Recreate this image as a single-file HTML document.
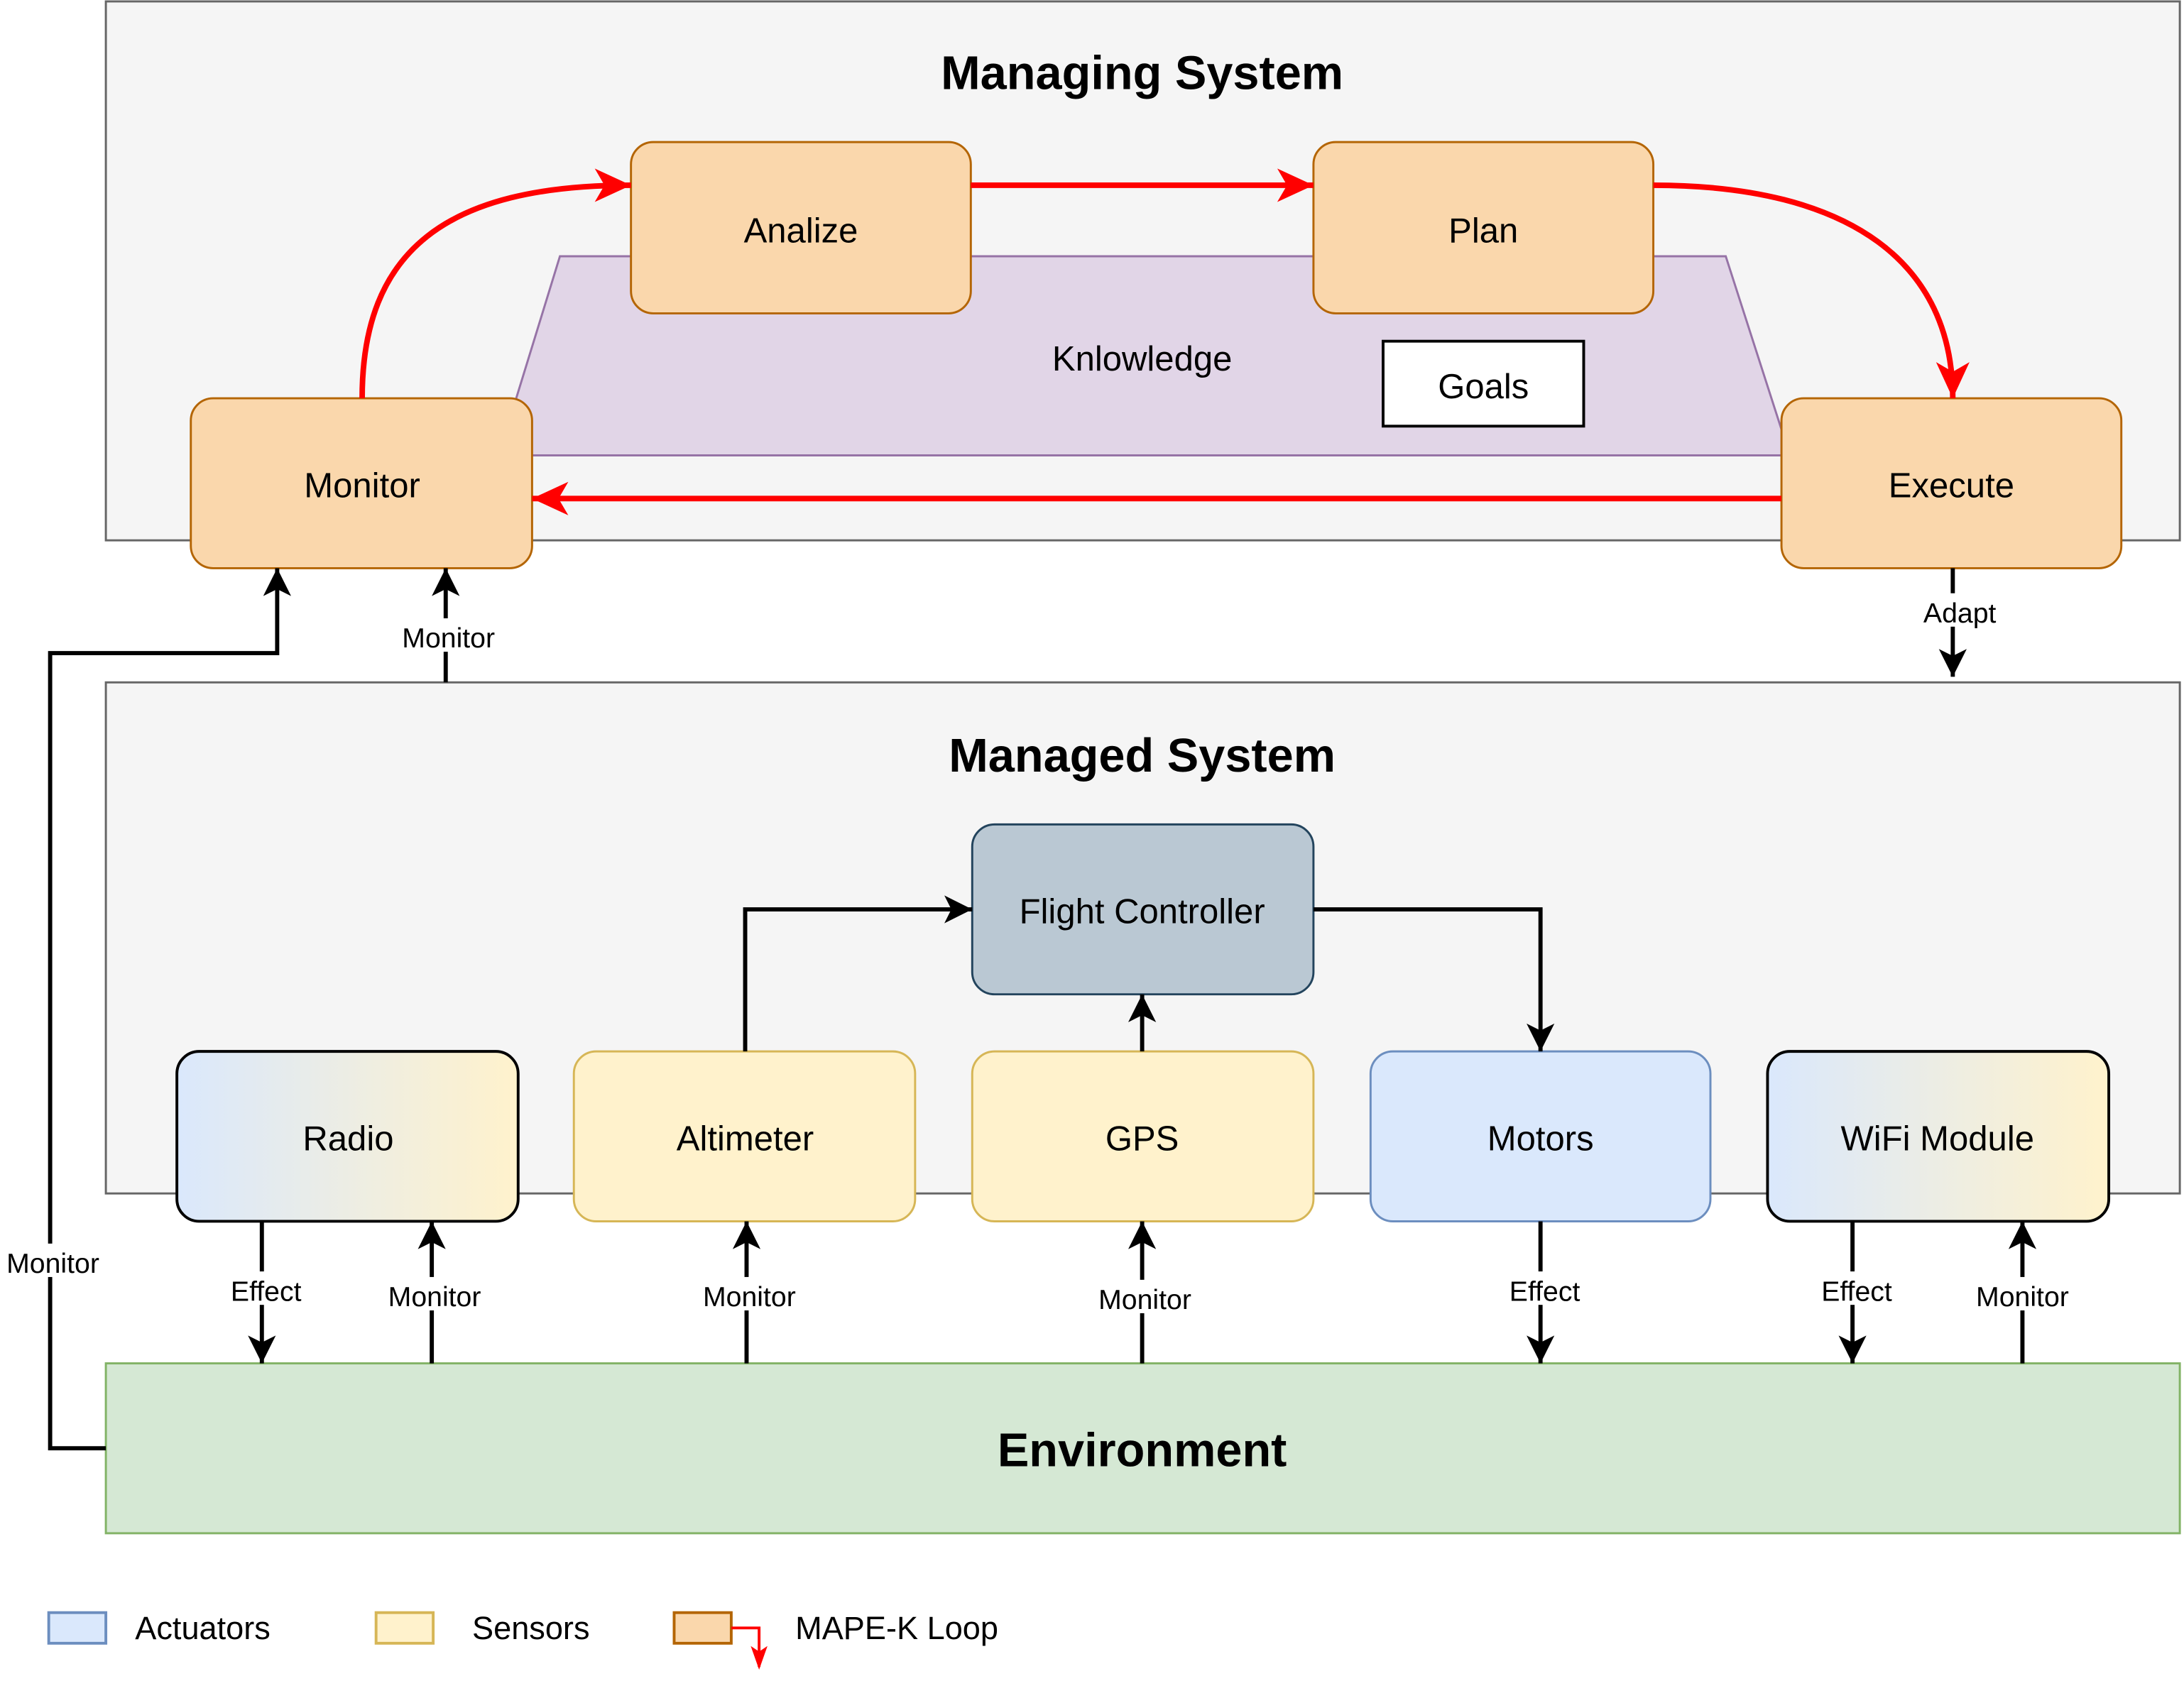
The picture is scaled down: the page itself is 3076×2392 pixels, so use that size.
<!DOCTYPE html>
<html><head><meta charset="utf-8"><style>
html,body{margin:0;padding:0;background:#fff;}
svg{display:block;font-family:"Liberation Sans",Helvetica,Arial,sans-serif;}
</style></head><body>
<svg width="3076" height="2392" viewBox="0 0 1568 1219.3" xmlns="http://www.w3.org/2000/svg">
<defs>
<marker id="ar" markerUnits="userSpaceOnUse" markerWidth="30" markerHeight="30" refX="26" refY="12" orient="auto">
<path d="M0,0 L26,12 L0,24 L7,12 Z" fill="#ff0000"/></marker>
<marker id="ab" markerUnits="userSpaceOnUse" markerWidth="24" markerHeight="24" refX="20" refY="10" orient="auto">
<path d="M0,0 L20,10 L0,20 L5,10 Z" fill="#000"/></marker>
<linearGradient id="g1" x1="0" x2="1" y1="0" y2="0"><stop offset="0" stop-color="#dae8fc"/><stop offset="1" stop-color="#fff2cc"/></linearGradient>
</defs>
<rect x="76" y="1" width="1489" height="387" fill="#f5f5f5" stroke="#666" stroke-width="1.5"/>
<text x="820" y="64" font-size="34" font-weight="bold" text-anchor="middle">Managing System</text>
<polygon points="402,184 1239,184 1285,327 358,327" fill="#e1d5e7" stroke="#9673a6" stroke-width="1.5"/>
<text x="820" y="266" font-size="25" text-anchor="middle">Knlowledge</text>
<rect x="993" y="245" width="144" height="61" fill="#fff" stroke="#000" stroke-width="2"/>
<text x="1065" y="286" font-size="25" text-anchor="middle">Goals</text>
<g fill="#fad7ac" stroke="#b46504" stroke-width="1.5">
<rect x="453" y="102" width="244" height="123" rx="16"/>
<rect x="943" y="102" width="244" height="123" rx="16"/>
<rect x="137" y="286" width="245" height="122" rx="16"/>
<rect x="1279" y="286" width="244" height="122" rx="16"/>
</g>
<g font-size="25" text-anchor="middle">
<text x="575" y="174">Analize</text><text x="1065" y="174">Plan</text>
<text x="260" y="357">Monitor</text><text x="1401" y="357">Execute</text>
</g>
<g fill="none" stroke="#ff0000" stroke-width="4">
<path d="M260,286 C260,180 320,133 453,133" marker-end="url(#ar)"/>
<path d="M697,133 L943,133" marker-end="url(#ar)"/>
<path d="M1187,133 C1330,133 1402,190 1402,286" marker-end="url(#ar)"/>
<path d="M1279,358 L382,358" marker-end="url(#ar)"/>
</g>
<rect x="76" y="490" width="1489" height="367" fill="#f5f5f5" stroke="#666" stroke-width="1.5"/>
<text x="820" y="554" font-size="34" font-weight="bold" text-anchor="middle">Managed System</text>
<rect x="698" y="592" width="245" height="122" rx="16" fill="#bac8d3" stroke="#23445d" stroke-width="1.5"/>
<rect x="127" y="755" width="245" height="122" rx="16" fill="url(#g1)" stroke="#000" stroke-width="2"/>
<rect x="412" y="755" width="245" height="122" rx="16" fill="#fff2cc" stroke="#d6b656" stroke-width="1.5"/>
<rect x="698" y="755" width="245" height="122" rx="16" fill="#fff2cc" stroke="#d6b656" stroke-width="1.5"/>
<rect x="984" y="755" width="244" height="122" rx="16" fill="#dae8fc" stroke="#6c8ebf" stroke-width="1.5"/>
<rect x="1269" y="755" width="245" height="122" rx="16" fill="url(#g1)" stroke="#000" stroke-width="2"/>
<g font-size="25" text-anchor="middle">
<text x="820" y="663">Flight Controller</text>
<text x="250" y="826">Radio</text><text x="535" y="826">Altimeter</text>
<text x="820" y="826">GPS</text><text x="1106" y="826">Motors</text><text x="1391" y="826">WiFi Module</text>
</g>
<rect x="76" y="979" width="1489" height="122" fill="#d5e8d4" stroke="#82b366" stroke-width="1.5"/>
<text x="820" y="1053" font-size="34" font-weight="bold" text-anchor="middle">Environment</text>
<g fill="none" stroke="#000" stroke-width="3">
<path d="M535,755 L535,653 L698,653" marker-end="url(#ab)"/>
<path d="M943,653 L1106,653 L1106,755" marker-end="url(#ab)"/>
<path d="M820,755 L820,714" marker-end="url(#ab)"/>
<path d="M188,877 L188,979" marker-end="url(#ab)"/>
<path d="M310,979 L310,877" marker-end="url(#ab)"/>
<path d="M536,979 L536,877" marker-end="url(#ab)"/>
<path d="M820,979 L820,877" marker-end="url(#ab)"/>
<path d="M1106,877 L1106,979" marker-end="url(#ab)"/>
<path d="M1330,877 L1330,979" marker-end="url(#ab)"/>
<path d="M1452,979 L1452,877" marker-end="url(#ab)"/>
<path d="M320,490 L320,408" marker-end="url(#ab)"/>
<path d="M1402,408 L1402,486" marker-end="url(#ab)"/>
<path d="M76,1040 L36,1040 L36,469 L199,469 L199,408" marker-end="url(#ab)"/>
</g>
<g font-size="20" text-anchor="middle">
<rect x="162" y="913" width="58" height="24" fill="#fff"/><text x="191" y="934">Effect</text>
<rect x="272" y="917" width="80" height="24" fill="#fff"/><text x="312" y="938">Monitor</text>
<rect x="498" y="917" width="80" height="24" fill="#fff"/><text x="538" y="938">Monitor</text>
<rect x="782" y="919" width="80" height="24" fill="#fff"/><text x="822" y="940">Monitor</text>
<rect x="1080" y="913" width="58" height="24" fill="#fff"/><text x="1109" y="934">Effect</text>
<rect x="1304" y="913" width="58" height="24" fill="#fff"/><text x="1333" y="934">Effect</text>
<rect x="1412" y="917" width="80" height="24" fill="#fff"/><text x="1452" y="938">Monitor</text>
<rect x="282" y="444" width="80" height="24" fill="#fff"/><text x="322" y="465">Monitor</text>
<rect x="1377" y="426" width="60" height="24" fill="#fff"/><text x="1407" y="447">Adapt</text>
<rect x="0" y="893" width="78" height="24" fill="#fff"/><text x="38" y="914">Monitor</text>
</g>
<rect x="35" y="1158" width="41" height="22" fill="#dae8fc" stroke="#6c8ebf" stroke-width="2"/>
<text x="97" y="1177" font-size="23">Actuators</text>
<rect x="270" y="1158" width="41" height="22" fill="#fff2cc" stroke="#d6b656" stroke-width="2"/>
<text x="339" y="1177" font-size="23">Sensors</text>
<rect x="484" y="1158" width="41" height="22" fill="#fad7ac" stroke="#b46504" stroke-width="2"/>
<path d="M525,1169 L545,1169 L545,1197" fill="none" stroke="#ff0000" stroke-width="2"/>
<path d="M539,1182 L545,1199 L551,1182 L545,1186 Z" fill="#ff0000"/>
<text x="571" y="1177" font-size="23">MAPE-K Loop</text>
</svg>
</body></html>
